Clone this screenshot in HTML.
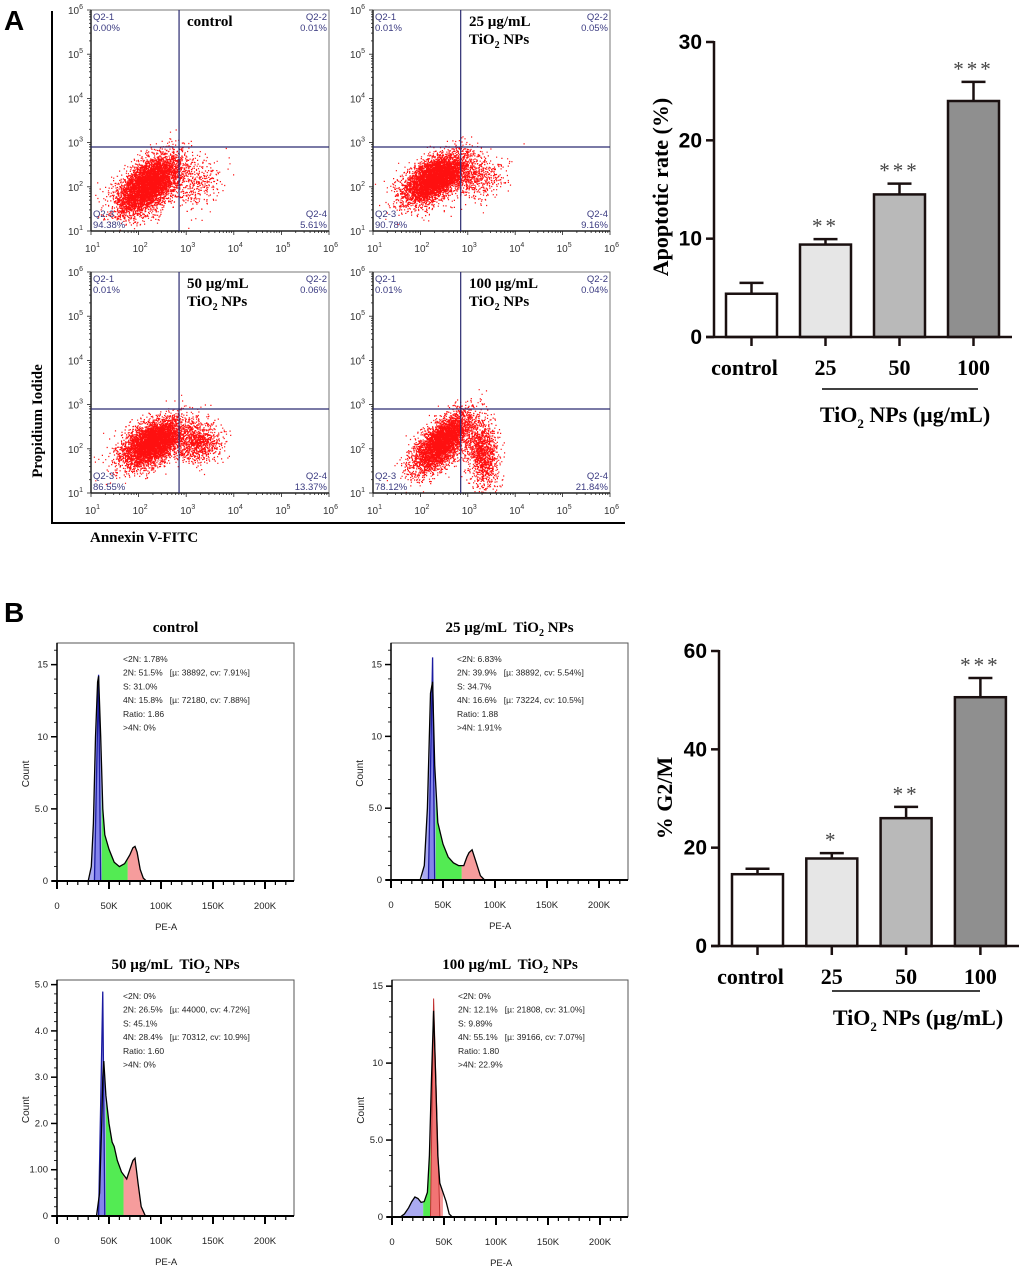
<!DOCTYPE html>
<html><head><meta charset="utf-8"><style>
html,body{margin:0;padding:0;background:#fff}
svg{display:block}
svg text{white-space:pre}
.sf{font-family:"Liberation Serif",serif;font-weight:bold}
.ss{font-family:"Liberation Sans",sans-serif}
</style></head><body>
<svg id="fig" width="1020" height="1267" viewBox="0 0 1020 1267" xmlns="http://www.w3.org/2000/svg">
<text x="4" y="30" class="ss" font-size="28" font-weight="bold">A</text>
<text x="4" y="622" class="ss" font-size="28" font-weight="bold">B</text>
<line x1="52" y1="11" x2="52" y2="524" stroke="#000" stroke-width="2"/>
<line x1="51" y1="523" x2="625" y2="523" stroke="#000" stroke-width="2"/>
<text transform="translate(42,421) rotate(-90)" text-anchor="middle" class="sf" font-size="15">Propidium Iodide</text>
<text x="90" y="542" class="sf" font-size="15">Annexin V-FITC</text>
<g id="flow"></g>
<g id="barA"></g>
<g id="hist"></g>
<g id="barB"></g>
</svg>
<script>
const NS="http://www.w3.org/2000/svg";
function mk(tag,attrs,parent,txt){const e=document.createElementNS(NS,tag);for(const k in attrs)e.setAttribute(k,attrs[k]);if(txt!==undefined)e.textContent=txt;parent.appendChild(e);return e;}

/* ---------- Flow cytometry data ---------- */
const flowTitles=[["control"],["25 µg/mL","TiO2 NPs"],["50 µg/mL","TiO2 NPs"],["100 µg/mL","TiO2 NPs"]];
const flowQ1=["0.00%","0.01%","0.01%","0.01%"];
const flowQ2=["0.01%","0.05%","0.06%","0.04%"];
const flowQ3=["94.38%","90.78%","86.55%","78.12%"];
const flowQ4=["5.61%","9.16%","13.37%","21.84%"];
// cluster params: [centerLogX, centerLogY, sdX, sdY, corr, count]
const flowMain=[[2.2,2.05,0.33,0.33,0.55,5500],[2.3,2.2,0.34,0.28,0.55,5000],[2.3,2.15,0.33,0.27,0.5,4700],[2.45,2.15,0.3,0.33,0.65,4200]];
const flowSide=[[3.2,2.1,0.27,0.27,0.1,350],[3.15,2.2,0.3,0.24,0.1,550],[3.25,2.15,0.24,0.22,0.1,900],[3.3,1.9,0.17,0.4,-0.2,1200]];
const flowGateX=[2.85,2.85,2.85,2.85];
const flowGateY=[2.9,2.9,2.9,2.9];
const flowBoxes=[[91,10,238,221],[373,10,237,221],[91,272,238,221],[373,272,237,221]];

let seed=12345;function rnd(){seed|=0;seed=seed+0x6D2B79F5|0;let t=Math.imul(seed^seed>>>15,1|seed);t=t+Math.imul(t^t>>>7,61|t)^t;return((t^t>>>14)>>>0)/4294967296;}
function gauss(){let u=rnd()||1e-9,v=rnd();return Math.sqrt(-2*Math.log(u))*Math.cos(2*Math.PI*v);}

const flow=document.getElementById('flow');
flowBoxes.forEach((b,i)=>{
  const [L,T,W,H]=b;
  const g=mk('g',{},flow);
  
  
  const sx=l=>L+(l-1)/5*W, sy=l=>T+H-(l-1)/5*H;
  mk('clipPath',{id:'fc'+i},g);mk('rect',{x:L,y:T,width:W,height:H},g.lastChild);
  let d='';
  [flowMain[i],flowSide[i]].forEach(c=>{
    for(let k=0;k<c[5];k++){const a=gauss(),bb=gauss();const lx=c[0]+c[2]*a,ly=c[1]+c[3]*(c[4]*a+Math.sqrt(1-c[4]*c[4])*bb);
      const px=sx(lx),py=sy(ly);if(px<L||px>L+W||py<T||py>T+H)continue;d+='M'+px.toFixed(1)+' '+py.toFixed(1)+'h1.2v1.2h-1.2z';}
  });
  const pts=mk('path',{d:d,fill:'#ff1010','clip-path':'url(#fc'+i+')'},g);
  
  
  const box=mk('rect',{x:L,y:T,width:W,height:H,fill:'none',stroke:'#777','stroke-width':1},g);
  
  
  mk('line',{x1:L,y1:T+H,x2:L+W,y2:T+H,stroke:'#222','stroke-width':1.5},g);
  mk('line',{x1:L,y1:T,x2:L,y2:T+H,stroke:'#222','stroke-width':1.5},g);
  const gx=mk('line',{x1:sx(flowGateX[i]),y1:T,x2:sx(flowGateX[i]),y2:T+H,stroke:'#2a2a70','stroke-width':1.2},g);
  
  
  const gy=mk('line',{x1:L,y1:sy(flowGateY[i]),x2:L+W,y2:sy(flowGateY[i]),stroke:'#2a2a70','stroke-width':1.2},g);
  
  
  for(let dec=1;dec<=6;dec++){
    for(let m=1;m<10;m++){const l=dec+Math.log10(m);if(l>6)break;const len=m==1?4:2;
      mk('line',{x1:sx(l),y1:T+H,x2:sx(l),y2:T+H+len,stroke:'#222','stroke-width':0.8},g);
      mk('line',{x1:L,y1:sy(l),x2:L-len,y2:sy(l),stroke:'#222','stroke-width':0.8},g);}
    const tx=mk('text',{x:sx(dec)-6,y:T+H+21,'font-size':10,fill:'#333','class':'ss'},g,'10');
    mk('tspan',{dy:-5,'font-size':7},tx,String(dec));
    
    
    const ty=mk('text',{x:L-23,y:sy(dec)+4,'font-size':10,fill:'#333','class':'ss'},g,'10');
    mk('tspan',{dy:-5,'font-size':7},ty,String(dec));
    
    
  }
  const qc='#3a3a80';
  [['Q2-1',L+2,T+10,'start'],[flowQ1[i],L+2,T+21,'start'],['Q2-2',L+W-2,T+10,'end'],[flowQ2[i],L+W-2,T+21,'end'],
   ['Q2-3',L+2,T+H-14,'start'],[flowQ3[i],L+2,T+H-3,'start'],['Q2-4',L+W-2,T+H-14,'end'],[flowQ4[i],L+W-2,T+H-3,'end']].forEach(q=>{
    const t=mk('text',{x:q[1],y:q[2],'font-size':9.5,fill:qc,'text-anchor':q[3],'class':'ss'},g,q[0]);
    
    
  });
  flowTitles[i].forEach((s,j)=>{
    const t=mk('text',{x:L+96,y:T+16+j*18,'font-size':15,'class':'sf'},g);
    if(s.indexOf('TiO2')===0){t.textContent='TiO';mk('tspan',{dy:4,'font-size':10},t,'2');mk('tspan',{dy:-4},t,' NPs');}
    else t.textContent=s;
    
    
  });
});

/* ---------- Bar charts ---------- */
const barCats=["control","25","50","100"];
const barFills=["#ffffff","#e6e6e6","#b9b9b9","#8f8f8f"];
const apopValues=[4.4,9.4,14.5,24.0];
const apopErrors=[1.1,0.55,1.1,1.95];
const apopStars=["","**","***","***"];
const apopTicks=[0,10,20,30];
const g2mValues=[14.6,17.8,26.0,50.6];
const g2mErrors=[1.1,1.1,2.3,3.9];
const g2mStars=["","*","**","***"];
const g2mTicks=[0,20,40,60];

function barChart(gid,cfg){
  const g=document.getElementById(gid);
  const ys=v=>cfg.y0-(v-cfg.ymin)/(cfg.ymax-cfg.ymin)*(cfg.y0-cfg.ytop);
  const xc=i=>cfg.x1+cfg.bw/2+i*cfg.step;
  cfg.vals.forEach((v,i)=>{
    const x=xc(i)-cfg.bw/2;
    const eb=mk('line',{x1:xc(i),y1:ys(v),x2:xc(i),y2:ys(v+cfg.errs[i]),stroke:'#1a1010','stroke-width':2.5},g);
    
    
    mk('line',{x1:xc(i)-12,y1:ys(v+cfg.errs[i]),x2:xc(i)+12,y2:ys(v+cfg.errs[i]),stroke:'#1a1010','stroke-width':2.5},g);
    const r=mk('rect',{x:x,y:ys(v),width:cfg.bw,height:ys(cfg.ymin)-ys(v),fill:barFills[i],stroke:'#1a1010','stroke-width':2.5},g);
    
    
    if(cfg.stars[i]){const s=mk('text',{x:xc(i),y:ys(v+cfg.errs[i])-6,'text-anchor':'middle','font-size':21,fill:'#444','letter-spacing':3,'font-family':'"Liberation Serif",serif'},g,cfg.stars[i]);
      
      }
    mk('line',{x1:xc(i),y1:cfg.y0,x2:xc(i),y2:cfg.y0+9,stroke:'#1a1010','stroke-width':2.5},g);
    const lb=mk('text',{x:xc(i)+(i==0?-7:0),y:cfg.y0+38,'text-anchor':'middle','font-size':22,'class':'sf'},g,barCats[i]);
    
    
  });
  const ya=mk('line',{x1:cfg.ax,y1:cfg.ytop-1,x2:cfg.ax,y2:cfg.y0+1,stroke:'#1a1010','stroke-width':2.5},g);
  
  
  const xa=mk('line',{x1:cfg.ax-8,y1:cfg.y0,x2:cfg.xend,y2:cfg.y0,stroke:'#1a1010','stroke-width':2.5},g);
  
  
  cfg.ticks.forEach(t=>{
    mk('line',{x1:cfg.ax-8,y1:ys(t),x2:cfg.ax,y2:ys(t),stroke:'#1a1010','stroke-width':2.5},g);
    const tl=mk('text',{x:cfg.ax-12,y:ys(t)+7,'text-anchor':'end','font-size':21,'font-weight':'bold','class':'ss'},g,String(t));
    
    
  });
  const bl=mk('line',{x1:cfg.lx1,y1:cfg.ly,x2:cfg.lx2,y2:cfg.ly,stroke:'#000','stroke-width':1.5},g);
  
  
  const tt=mk('text',{x:cfg.tx,y:cfg.ty,'text-anchor':'middle','font-size':22,'class':'sf'},g,'TiO');
  mk('tspan',{dy:6,'font-size':13},tt,'2');mk('tspan',{dy:-6},tt,' NPs (µg/mL)');
  
  
  const yt=mk('text',{transform:'translate('+cfg.ytx+','+cfg.yty+') rotate(-90)','text-anchor':'middle','font-size':22,'class':'sf'},g,cfg.ytitle);
  
  
}
barChart('barA',{vals:apopValues,errs:apopErrors,stars:apopStars,ticks:apopTicks,ymin:0,ymax:30,y0:337,ytop:42,ax:714,x1:726,bw:51,step:74,xend:1012,lx1:822,lx2:978,ly:389,tx:905,ty:422,ytx:668,yty:187,ytitle:'Apoptotic rate (%)'});
barChart('barB',{vals:g2mValues,errs:g2mErrors,stars:g2mStars,ticks:g2mTicks,ymin:0,ymax:60,y0:946,ytop:651,ax:719,x1:732,bw:51,step:74.3,xend:1019,lx1:832,lx2:980,ly:991,tx:918,ty:1025,ytx:672,yty:798,ytitle:'% G2/M'});

/* ---------- DNA histograms ---------- */
const histTitles=["control","25 µg/mL  TiO2 NPs","50 µg/mL  TiO2 NPs","100 µg/mL  TiO2 NPs"];
const histStats=[
 ["<2N: 1.78%","2N: 51.5%   [µ: 38892, cv: 7.91%]","S: 31.0%","4N: 15.8%   [µ: 72180, cv: 7.88%]","Ratio: 1.86",">4N: 0%"],
 ["<2N: 6.83%","2N: 39.9%   [µ: 38892, cv: 5.54%]","S: 34.7%","4N: 16.6%   [µ: 73224, cv: 10.5%]","Ratio: 1.88",">4N: 1.91%"],
 ["<2N: 0%","2N: 26.5%   [µ: 44000, cv: 4.72%]","S: 45.1%","4N: 28.4%   [µ: 70312, cv: 10.9%]","Ratio: 1.60",">4N: 0%"],
 ["<2N: 0%","2N: 12.1%   [µ: 21808, cv: 31.0%]","S: 9.89%","4N: 55.1%   [µ: 39166, cv: 7.07%]","Ratio: 1.80",">4N: 22.9%"]];
const histYMax=[16.5,16.5,5.1,15.4];
const histTickVals=[[0,5,10,15],[0,5,10,15],[0,1,2,3,4,5],[0,5,10,15]];
const histTickLabels=[["0","5.0","10","15"],["0","5.0","10","15"],["0","1.00","2.0","3.0","4.0","5.0"],["0","5.0","10","15"]];
const histMinor=[1,1,0.2,1];
const xTickK=[0,50,100,150,200];
const xTickLab=["0","50K","100K","150K","200K"];
const histX=[
 [30,33,35,37,39,40,42,44,46,50,55,60,65,70,73,75,77,80,83,86],
 [28,32,35,38,40,42,45,50,55,60,65,70,73,75,78,82,86,90],
 [38,41,43,44,45,47,50,53,55,58,62,67,70,73,75,78,81,85],
 [8,12,16,19,22,25,28,31,34,36,38,40,42,44,46,49,52,55,58]];
const histY=[
 [0,1,4,10,13.8,14.2,10,5,3.2,2.2,1.3,1.0,1.2,1.8,2.3,2.4,2.0,0.8,0.2,0],
 [0,1,5,13,13.8,8,4,2.5,1.6,1.2,1.0,1.0,1.6,1.9,2.1,1.2,0.3,0],
 [0,0.5,2,3.0,3.35,2.6,2.0,1.6,1.5,1.2,0.95,0.8,1.0,1.2,1.25,0.7,0.2,0],
 [0,0.2,0.6,1.0,1.3,1.2,0.95,1.0,1.6,4,9,13.4,9,4,2.2,1.6,1.0,0.2,0]];
const histPhases=[[30,43,68,87],[30,43,68,90],[39,47,64,87],[9,30,37,49]];
const histBlueSpike=[[40,14.3],[40,15.5],[44,4.85],[null,null]];
const histRedSpike=[[null,null],[null,null],[null,null],[40,14.2]];
const histBoxes=[[57,643,237,238],[391,643,237,237],[57,980,237,236],[392,980,236,237]];

const hist=document.getElementById('hist');
histBoxes.forEach((b,i)=>{
  const [L,T,W,H]=b;const B=T+H;
  const g=mk('g',{},hist);
  
  
  const sx=k=>L+k*1.04, sy=v=>B-v/histYMax[i]*H;
  const X=histX[i],Y=histY[i];
  const interp=k=>{if(k<=X[0])return 0;for(let j=1;j<X.length;j++)if(k<=X[j]){const t=(k-X[j-1])/(X[j]-X[j-1]);return Y[j-1]+t*(Y[j]-Y[j-1]);}return 0;};
  const ph=histPhases[i];const cols=['rgba(100,100,230,0.55)','rgba(40,230,40,0.8)','rgba(240,90,90,0.6)'];
  const names=['g1-fill','s-phase-fill','g2-fill'];
  for(let p=0;p<3;p++){
    let d='M'+sx(ph[p])+' '+B;
    for(let k=ph[p];k<=ph[p+1];k+=0.5)d+=' L'+sx(k).toFixed(1)+' '+sy(interp(k)).toFixed(1);
    d+=' L'+sx(ph[p+1])+' '+B+'Z';
    const f=mk('path',{d:d,fill:cols[p]},g);
    
    
  }
  if(histBlueSpike[i][0]!==null){const s=histBlueSpike[i];
    mk('path',{d:'M'+sx(s[0]-4)+' '+B+' L'+sx(s[0])+' '+sy(s[1])+' L'+sx(s[0]+2)+' '+B+'Z',fill:'rgba(100,100,230,0.55)',stroke:'#1a1aa0','stroke-width':1.3},g);}
  if(histRedSpike[i][0]!==null){const s=histRedSpike[i];
    mk('path',{d:'M'+sx(s[0]-3)+' '+B+' L'+sx(s[0])+' '+sy(s[1])+' L'+sx(s[0]+6)+' '+B+'Z',fill:'rgba(240,90,90,0.6)',stroke:'#c03030','stroke-width':1},g);}
  let d='';X.forEach((k,j)=>{d+=(j?' L':'M')+sx(k).toFixed(1)+' '+sy(Y[j]).toFixed(1);});
  const c=mk('path',{d:d,fill:'none',stroke:'#000','stroke-width':1.3},g);
  
  
  const fr=mk('path',{d:'M'+L+' '+B+' V'+T+' H'+(L+W)+' V'+B,fill:'none',stroke:'#555','stroke-width':1},g);
  
  
  mk('line',{x1:L-5,y1:B,x2:L+W,y2:B,stroke:'#000','stroke-width':2},g);
  mk('line',{x1:L,y1:T,x2:L,y2:B,stroke:'#000','stroke-width':1.5},g);
  for(let k=0;k<=220;k+=10){mk('line',{x1:sx(k),y1:B,x2:sx(k),y2:B+(k%50==0?8:4),stroke:'#000','stroke-width':k%50==0?2:1.2},g);}
  xTickK.forEach((k,j)=>{const t=mk('text',{x:sx(k),y:B+28,'text-anchor':'middle','font-size':9.5,fill:'#222','class':'ss'},g,xTickLab[j]);
    
    });
  for(let v=0;v<=histYMax[i];v+=histMinor[i])mk('line',{x1:L-3,y1:sy(v),x2:L,y2:sy(v),stroke:'#000','stroke-width':0.8},g);
  histTickVals[i].forEach((v,j)=>{mk('line',{x1:L-6,y1:sy(v),x2:L,y2:sy(v),stroke:'#000','stroke-width':1.5},g);
    const t=mk('text',{x:L-9,y:sy(v)+3,'text-anchor':'end','font-size':9.5,fill:'#222','class':'ss'},g,histTickLabels[i][j]);
    
    });
  const xt=mk('text',{x:sx(105),y:B+49,'text-anchor':'middle','font-size':9.5,fill:'#222','class':'ss'},g,'PE-A');
  
  
  const yt=mk('text',{transform:'translate('+(L-28)+','+(T+H*0.55)+') rotate(-90)','text-anchor':'middle','font-size':10,fill:'#222','class':'ss'},g,'Count');
  
  
  histStats[i].forEach((s,j)=>{const t=mk('text',{x:L+66,y:T+19+j*13.7,'font-size':8.5,fill:'#222','class':'ss'},g,s);
    
    });
  const ti=mk('text',{x:L+W/2,y:T-11,'text-anchor':'middle','font-size':15,'class':'sf'},g);
  const tt=histTitles[i];
  if(tt.indexOf('TiO2')>0){ti.textContent=tt.split('TiO2')[0]+'TiO';mk('tspan',{dy:4,'font-size':10},ti,'2');mk('tspan',{dy:-4},ti,' NPs');}
  else ti.textContent=tt;
  
  
});
</script>
</body></html>
